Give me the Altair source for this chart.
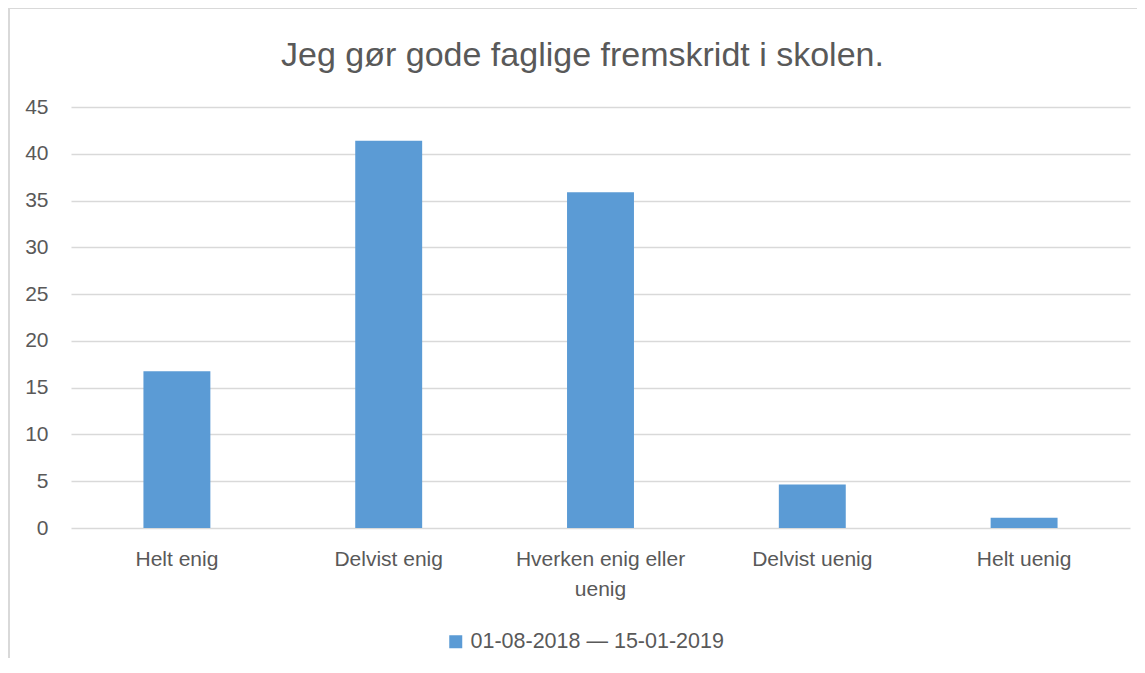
import altair as alt
import pandas as pd

categories = ["Helt enig", "Delvist enig", "Hverken enig eller uenig", "Delvist uenig", "Helt uenig"]
values = [16.75, 41.4, 35.9, 4.65, 1.1]
series = "01-08-2018 — 15-01-2019"
y_ticks = [0, 5, 10, 15, 20, 25, 30, 35, 40, 45]

df = pd.DataFrame({"kategori": categories, "verdi": values, "serie": [series] * len(categories)})

FONT = "Liberation Sans"
GRAY = "#595959"

bars = alt.Chart(df).mark_bar(color="#5B9BD5").encode(
    x=alt.X(
        "kategori:N",
        sort=categories,
        scale=alt.Scale(paddingInner=0.684, paddingOuter=0.342),
        axis=alt.Axis(
            title=None,
            labelAngle=0,
            ticks=False,
            domain=False,
            labelPadding=20,
            labelFontSize=21,
            labelColor=GRAY,
            labelFont=FONT,
            labelLineHeight=30,
            labelLimit=300,
            labelExpr="datum.label == 'Hverken enig eller uenig' ? ['Hverken enig eller', 'uenig'] : datum.label",
        ),
    ),
    y=alt.Y(
        "verdi:Q",
        scale=alt.Scale(domain=[0, 45], nice=False),
        axis=alt.Axis(
            title=None,
            values=y_ticks,
            ticks=False,
            domain=False,
            labelPadding=23,
            labelFontSize=21,
            labelColor=GRAY,
            labelFont=FONT,
            gridColor="#d9d9d9",
            gridWidth=1.5,
        ),
    ),
    color=alt.Color(
        "serie:N",
        scale=alt.Scale(range=["#5B9BD5"]),
        legend=alt.Legend(
            title=None,
            orient="none",
            legendX=374,
            legendY=524,
            symbolType="square",
            symbolSize=169,
            symbolStrokeWidth=0,
            labelFontSize=21.5,
            labelColor=GRAY,
            labelFont=FONT,
            labelOffset=4,
            labelLimit=400,
        ),
    ),
)

border_data = alt.Data(values=[{"a": 1}])
left_border = alt.Chart(border_data).mark_rule(color="#d9d9d9", strokeWidth=2).encode(
    x=alt.value(-62), y=alt.value(-99), y2=alt.value(560)
)
top_border = alt.Chart(border_data).mark_rule(color="#d9d9d9", strokeWidth=2).encode(
    x=alt.value(-62), x2=alt.value(1066), y=alt.value(-99)
)

chart = alt.layer(bars, left_border, top_border).properties(
    width=1059,
    height=421,
    autosize=alt.AutoSizeParams(type="none"),
    padding={"left": 63, "top": 99, "right": 7, "bottom": 130},
    title=alt.TitleParams(
        "Jeg gør gode faglige fremskridt i skolen.",
        font=FONT,
        fontSize=34,
        fontWeight="normal",
        color=GRAY,
        anchor="middle",
        dx=-18,
        offset=-66,
    ),
).configure_view(stroke=None)

chart.save("out.html", embed_options={"renderer": "svg", "actions": False})
